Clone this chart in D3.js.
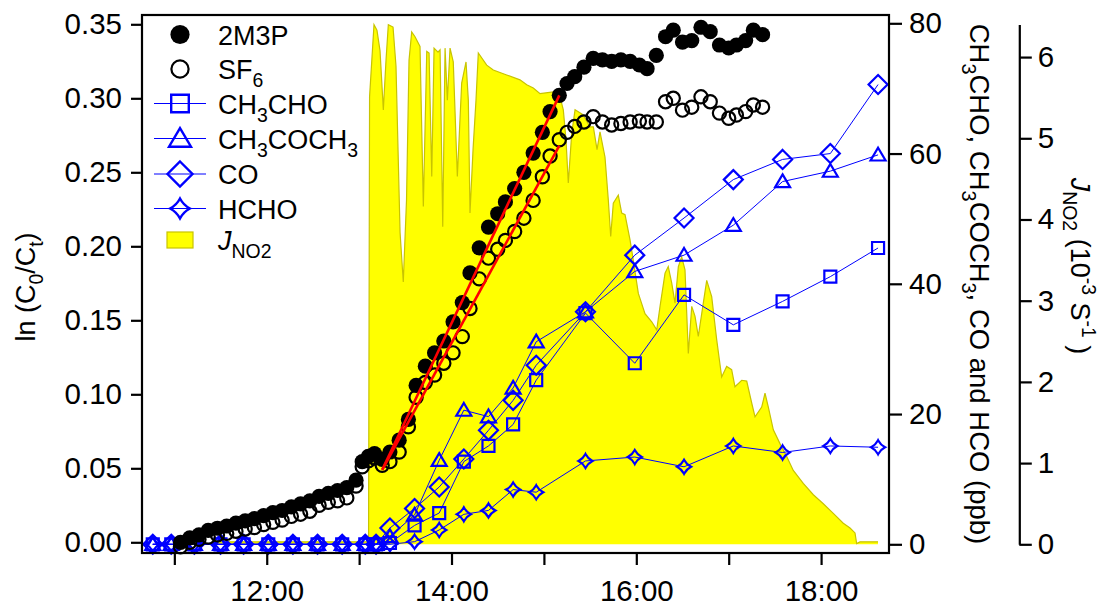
<!DOCTYPE html>
<html>
<head>
<meta charset="utf-8">
<script src="https://cdn.jsdelivr.net/npm/d3@7"></script>
<style>
  body { margin: 0; background: #fff; }
  svg { display: block; font-family: "Liberation Sans", Arial, sans-serif; }
</style>
</head>
<body>
<svg id="chart" width="1111" height="608"></svg>
<script>
// GC samples: ln(C0/Ct) of 2M3P and of the SF6 tracer
const gcTimes = [
  "11:04","11:10","11:16","11:22","11:28","11:34","11:40","11:46","11:52","11:58",
  "12:04","12:10","12:16","12:22","12:28","12:34","12:40","12:46","12:52","12:58",
  "13:02","13:06","13:10",
  "13:15","13:20","13:26","13:32","13:37","13:43","13:49","13:55","14:01","14:07",
  "14:12","14:18","14:24","14:30","14:35","14:41","14:47","14:53","14:59","15:04","15:10",
  "15:15","15:20","15:26","15:32","15:38","15:44","15:50","15:56","16:02","16:07",
  "16:13","16:19","16:24","16:30","16:36","16:42","16:48","16:54","17:00","17:05",
  "17:11","17:16","17:22"
];
const ln2M3P = [
  0.000,0.003,0.005,0.008,0.0095,0.011,0.013,0.0145,0.016,0.018,
  0.020,0.0215,0.024,0.026,0.028,0.031,0.033,0.035,0.037,0.042,
  0.0545,0.058,0.060,
  0.056,0.061,0.069,0.083,0.106,0.119,0.128,0.136,0.149,0.162,
  0.182,0.199,0.213,0.222,0.230,0.239,0.250,0.263,0.277,0.291,0.302,
  0.310,0.3146,0.321,0.327,0.326,0.325,0.326,0.325,0.3225,0.320,
  0.329,0.3416,0.346,0.338,0.339,0.348,0.345,0.336,0.334,0.336,
  0.339,0.346,0.343
];
const lnSF6 = [
  -0.003,0.000,0.002,0.0035,0.005,0.006,0.0075,0.009,0.010,0.012,
  0.0135,0.015,0.0175,0.019,0.021,0.025,0.027,0.028,0.030,0.038,
  0.051,0.055,0.057,
  0.052,0.0545,0.061,0.078,0.098,0.108,0.113,0.121,0.128,0.139,
  0.158,0.178,0.192,0.198,0.204,0.210,0.219,0.231,0.247,0.261,0.272,
  0.277,0.281,0.284,0.2876,0.284,0.282,0.283,0.284,0.2846,0.284,
  0.284,0.2977,0.300,0.292,0.294,0.301,0.2977,0.290,0.2865,0.2887,
  0.291,0.2955,0.294
];

// linear fits over the photolysis period
const fitTimes = ["13:15", "15:10"];
const fit2M3P = [0.049, 0.302];
const fitSF6 = [0.049, 0.268];

// product concentrations (ppb)
const vocTimes = [
  "10:46","10:58","11:13","11:30","11:45","12:01","12:17","12:33","12:49","13:04",
  "13:11","13:20","13:36","13:52","14:08","14:24","14:40","14:55","15:27","15:59",
  "16:31","17:03","17:35","18:06","18:37"
];
const ch3cho   = [0,0,0,0,0,0,0,0,0,0, 0,0.2,2.9,4.8,12.7,15.1,18.4,25.2,35.5,27.8, 38.3,33.7,37.3,41.1,45.5];
const ch3coch3 = [0,0,0,0,0,0,0,0,0,0, 0,1.2,4.5,12.9,20.6,19.6,24.0,31.1,35.7,41.9, 44.4,49.0,55.7,57.3,59.8];
const co       = [0,0,0,0,0,0,0,0,0,0, 0,2.5,5.5,8.8,13.1,17.5,22.1,27.5,35.7,44.4, 50.1,56.0,59.1,60.0,70.6];
const hcho     = [0,0,0,0,0,0,0,0,0,0, 0,0,0.4,2.2,4.6,5.2,8.4,8.0,12.8,13.4, 11.9,15.1,14.1,15.1,14.9];

// J(NO2) trace, decimal hours and 10^-3 s^-1
const jHour = [
  11.40,11.42,13.085,13.102,13.113,13.161,13.193,13.226,13.262,13.291,
  13.316,13.367,13.399,13.443,13.478,13.513,13.540,13.569,13.605,13.659,
  13.695,13.732,13.757,13.786,13.811,13.854,13.876,13.905,13.930,13.955,
  13.984,14.019,14.063,14.110,14.157,14.182,14.200,14.233,14.265,14.290,
  14.381,14.452,14.597,14.741,14.814,14.885,14.958,15.102,15.174,15.210,
  15.239,15.264,15.301,15.337,15.423,15.499,15.535,15.575,15.607,15.661,
  15.697,15.723,15.751,15.805,15.842,15.878,15.932,15.967,16.022,16.094,
  16.167,16.221,16.257,16.311,16.346,16.383,16.419,16.455,16.491,16.527,
  16.563,16.600,16.635,16.671,16.708,16.762,16.816,16.870,16.924,16.978,
  17.032,17.068,17.141,17.195,17.249,17.285,17.357,17.393,17.429,17.483,
  17.555,17.628,17.699,17.807,17.916,18.024,18.132,18.240,18.313,18.367,
  18.385,18.421,18.616
];
const jValue = [
  0,0.03,0.03,0.03,5.51,6.40,6.33,6.08,5.35,5.96,
  6.40,6.37,5.89,3.84,3.23,4.24,5.96,6.31,6.25,6.13,
  4.16,6.07,6.05,4.53,6.11,6.06,6.09,3.91,6.11,5.47,
  6.11,5.94,4.53,5.68,5.94,5.47,4.08,4.86,5.47,6.05,
  5.90,5.84,5.78,5.72,5.66,5.62,5.55,5.57,5.51,5.35,
  4.98,4.45,5.06,5.35,5.29,5.14,5.14,4.86,5.08,4.77,
  4.24,3.79,4.20,4.30,4.08,4.06,3.75,3.50,3.09,2.84,
  2.74,2.64,2.93,3.34,3.42,3.22,2.97,3.42,3.54,3.38,
  2.35,2.93,2.81,2.56,2.84,3.25,3.05,2.52,2.06,2.19,
  2.15,1.94,2.02,2.01,1.74,1.57,1.69,1.86,1.69,1.41,
  1.24,1.08,0.91,0.75,0.61,0.50,0.38,0.26,0.20,0.14,
  0.01,0.03,0.03
];

const leftTicks = [0, 0.05, 0.10, 0.15, 0.20, 0.25, 0.30, 0.35];
const ppbTicks = [0, 20, 40, 60, 80];
const jTicks = [0, 1, 2, 3, 4, 5, 6];

// ---------------------------------------------------------------

const svg = d3.select('#chart');
const plot = { left: 142, right: 889, top: 15, bottom: 553 };
const BLUE = '#0000ff';
const FONT_TICK = 29.5;
const FONT_TITLE = 27;

const clock = (s) => {
  const [h, m] = s.split(':').map(Number);
  return new Date(2000, 0, 1, h, m);
};
const fromHour = (h) => new Date(2000, 0, 1, 0, 0, 0, Math.round(h * 3600000));

const x = d3.scaleTime()
  .domain([fromHour(10.65), fromHour(18.735)])
  .range([plot.left, plot.right]);
const yLn = d3.scaleLinear().domain([0, 0.35]).range([542.3, 24.3]);
const yPpb = d3.scaleLinear().domain([0, 80]).range([544.3, 23.3]);
const yJ = d3.scaleLinear().domain([0, 6.4]).range([544.3, 24.6]);

// rich text with sub/superscripts and italics
function richText(sel, parts, size) {
  let offset = 0;
  parts.forEach(([str, mode]) => {
    const t = sel.append('tspan').text(str);
    let target = 0;
    if (mode === 'sub') target = 0.3 * size;
    if (mode === 'sup') target = -0.42 * size;
    if (target !== offset) { t.attr('dy', target - offset); offset = target; }
    if (mode === 'sub' || mode === 'sup') t.attr('font-size', 0.72 * size);
    if (mode === 'it') t.attr('font-style', 'italic');
  });
}

function markerPath(type, s) {
  switch (type) {
    case 'square': return `M${-s},${-s}H${s}V${s}H${-s}Z`;
    case 'triangle': return `M0,${-0.95 * s}L${s},${0.75 * s}L${-s},${0.75 * s}Z`;
    case 'diamond': return `M0,${-s}L${s},0L0,${s}L${-s},0Z`;
    case 'star': {
      const c = s * 0.34;
      return `M0,${-s}Q${c},${-c} ${s},0Q${c},${c} 0,${s}Q${-c},${c} ${-s},0Q${-c},${-c} 0,${-s}Z`;
    }
  }
}

// ---- J(NO2) area
const jData = jHour.map((h, i) => ({ t: fromHour(h), v: jValue[i] }));
svg.append('path')
  .datum(jData)
  .attr('fill', '#ffff00')
  .attr('d', d3.area().x((d) => x(d.t)).y0(yJ(0)).y1((d) => yJ(d.v)));
svg.append('path')
  .datum(jData)
  .attr('fill', 'none')
  .attr('stroke', '#c8c400')
  .attr('stroke-width', 1.2)
  .attr('d', d3.line().x((d) => x(d.t)).y((d) => yJ(d.v)));

// ---- product series
const products = [
  { name: 'CH3CHO', values: ch3cho, shape: 'square', size: 6 },
  { name: 'CH3COCH3', values: ch3coch3, shape: 'triangle', size: 7.5 },
  { name: 'CO', values: co, shape: 'diamond', size: 9.5 },
  { name: 'HCHO', values: hcho, shape: 'star', size: 7 }
];
const ppbLine = d3.line().x((d) => x(d.t)).y((d) => yPpb(d.v));
products.forEach((p) => {
  const data = vocTimes.map((t, i) => ({ t: clock(t), v: p.values[i] }));
  const g = svg.append('g');
  g.append('path').datum(data)
    .attr('fill', 'none').attr('stroke', BLUE).attr('stroke-width', 1)
    .attr('d', ppbLine);
  g.selectAll('path.mk').data(data).join('path')
    .attr('class', 'mk')
    .attr('transform', (d) => `translate(${x(d.t)},${yPpb(d.v)})`)
    .attr('d', markerPath(p.shape, p.size))
    .attr('fill', 'none').attr('stroke', BLUE).attr('stroke-width', 2.2)
    .attr('stroke-linejoin', 'miter');
});

// ---- GC points
const gc = gcTimes.map((t, i) => ({ t: clock(t), a: ln2M3P[i], b: lnSF6[i] }));
svg.append('g').selectAll('circle').data(gc).join('circle')
  .attr('cx', (d) => x(d.t)).attr('cy', (d) => yLn(d.a))
  .attr('r', 7.6).attr('fill', '#000');
svg.append('g').selectAll('circle').data(gc).join('circle')
  .attr('cx', (d) => x(d.t)).attr('cy', (d) => yLn(d.b))
  .attr('r', 6.6).attr('fill', 'none').attr('stroke', '#000').attr('stroke-width', 2.2);

// ---- fit lines
[fit2M3P, fitSF6].forEach((vals) => {
  const data = fitTimes.map((t, i) => ({ t: clock(t), v: vals[i] }));
  svg.append('path').datum(data)
    .attr('fill', 'none').attr('stroke', '#ff0000').attr('stroke-width', 2.6)
    .attr('d', d3.line().x((d) => x(d.t)).y((d) => yLn(d.v)));
});

// ---- frame
svg.append('rect')
  .attr('x', plot.left).attr('y', plot.top)
  .attr('width', plot.right - plot.left).attr('height', plot.bottom - plot.top)
  .attr('fill', 'none').attr('stroke', '#000').attr('stroke-width', 2.2);

function styleAxis(g) {
  g.selectAll('path.domain').attr('stroke-width', 2.2);
  g.selectAll('.tick line').attr('stroke-width', 2.2);
  g.selectAll('.tick text').attr('font-size', FONT_TICK).attr('fill', '#000');
  g.attr('font-family', null);
}

// x axis
const fmt = d3.timeFormat('%H:%M');
svg.append('g')
  .attr('transform', `translate(0,${plot.bottom})`)
  .call(d3.axisBottom(x)
    .ticks(d3.timeHour.every(1))
    .tickSize(12).tickSizeOuter(0).tickPadding(15)
    .tickFormat((d) => (d.getHours() % 2 === 0 ? fmt(d) : '')))
  .call((g) => g.select('.domain').remove())
  .call(styleAxis);

// left axis
svg.append('g')
  .attr('transform', `translate(${plot.left},0)`)
  .call(d3.axisLeft(yLn).tickValues(leftTicks).tickFormat(d3.format('.2f'))
    .tickSize(11).tickSizeOuter(0).tickPadding(9))
  .call((g) => g.select('.domain').remove())
  .call(styleAxis);

// right ppb axis
svg.append('g')
  .attr('transform', `translate(${plot.right},0)`)
  .call(d3.axisRight(yPpb).tickValues(ppbTicks)
    .tickSize(13).tickSizeOuter(0).tickPadding(7))
  .call((g) => g.select('.domain').remove())
  .call(styleAxis);

// J axis
svg.append('g')
  .attr('transform', 'translate(1019.3,0)')
  .call(d3.axisRight(yJ).tickValues(jTicks).tickFormat(d3.format('d'))
    .tickSize(12.5).tickSizeOuter(0).tickPadding(6))
  .call(styleAxis);

// axis titles
richText(
  svg.append('text').attr('transform', 'translate(35,287) rotate(-90)')
    .attr('text-anchor', 'middle').attr('font-size', FONT_TITLE),
  [['ln (C'], ['0', 'sub'], ['/C'], ['t', 'sub'], [')']], FONT_TITLE);

richText(
  svg.append('text').attr('transform', 'translate(970,284) rotate(90)')
    .attr('text-anchor', 'middle').attr('font-size', 27.5),
  [['CH'], ['3', 'sub'], ['CHO, CH'], ['3', 'sub'], ['COCH'], ['3', 'sub'],
   [', CO and HCO (ppb)']], 27.5);

richText(
  svg.append('text').attr('transform', 'translate(1071,266) rotate(90)')
    .attr('text-anchor', 'middle').attr('font-size', FONT_TITLE),
  [['J', 'it'], ['NO2', 'sub'], [' (10'], ['-3', 'sup'], [' S'], ['-1', 'sup'], [' )']],
  FONT_TITLE);

// ---- legend
const legend = svg.append('g').attr('font-size', FONT_TITLE);
const rows = [
  { y: 34.5, kind: 'filled', label: [['2M3P']] },
  { y: 69, kind: 'open', label: [['SF'], ['6', 'sub']] },
  { y: 103.5, kind: 'square', label: [['CH'], ['3', 'sub'], ['CHO']] },
  { y: 138.5, kind: 'triangle', label: [['CH'], ['3', 'sub'], ['COCH'], ['3', 'sub']] },
  { y: 174, kind: 'diamond', label: [['CO']] },
  { y: 208.5, kind: 'star', label: [['HCHO']] },
  { y: 240, kind: 'area', label: [['J', 'it'], ['NO2', 'sub']] }
];
const legendSize = { square: 8.8, triangle: 11, diamond: 12.5, star: 10 };
rows.forEach((r) => {
  const g = legend.append('g').attr('transform', `translate(180,${r.y})`);
  if (r.kind === 'filled') {
    g.append('circle').attr('r', 9.6).attr('fill', '#000');
  } else if (r.kind === 'open') {
    g.append('circle').attr('r', 8.6).attr('fill', 'none')
      .attr('stroke', '#000').attr('stroke-width', 2.2);
  } else if (r.kind === 'area') {
    g.append('rect').attr('x', -13).attr('y', -8).attr('width', 26).attr('height', 16)
      .attr('fill', '#ffff00').attr('stroke', '#c8c400').attr('stroke-width', 1.2);
  } else {
    g.append('line').attr('x1', -26).attr('x2', 26)
      .attr('stroke', BLUE).attr('stroke-width', 1);
    g.append('path').attr('d', markerPath(r.kind, legendSize[r.kind]))
      .attr('fill', 'none').attr('stroke', BLUE).attr('stroke-width', 2.4);
  }
  richText(g.append('text').attr('x', 38).attr('y', 10), r.label, FONT_TITLE);
});
</script>
</body>
</html>
